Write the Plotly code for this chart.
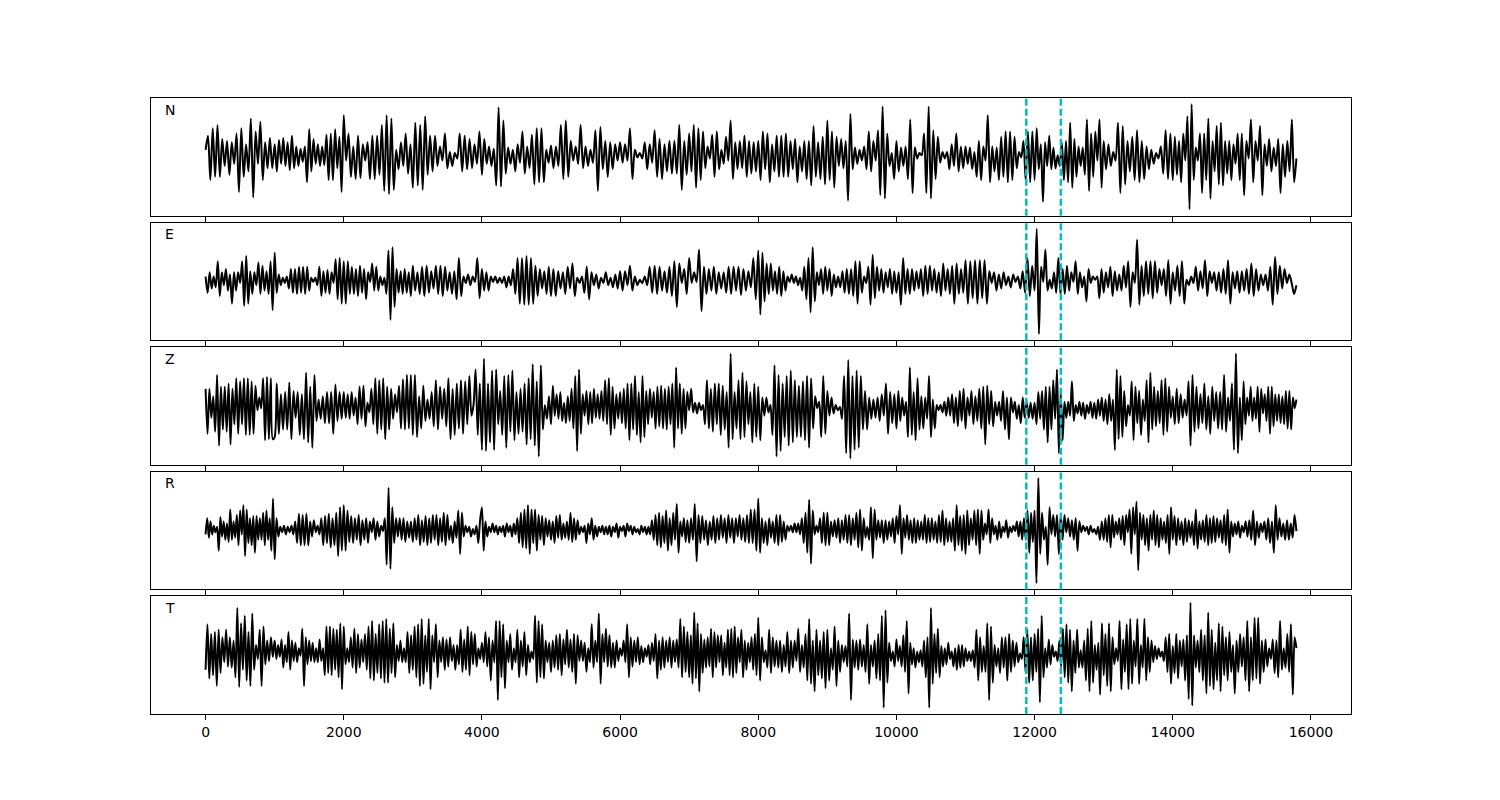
import numpy as np
import plotly.graph_objects as go

# ---------------- data (peak / trough amplitudes read per 1000-sample chunk) ----------------
CHUNK = 1000
T_END = 15790
components = ["N", "E", "Z", "R", "T"]
pick_times = [11880, 12380]
xticks = [0, 2000, 4000, 6000, 8000, 10000, 12000, 14000, 16000]

N_chunks = [
    [5, 18, -23, 25, -20, 28, -20, 15, -10, 13, -18, 12, -8, 20, -34, 25, -20, 10, -15, 34, -39, 22, -8, 31, -23, 12, -12, 16, -12],
    [10, -15, 14, -8, 16, -10, 12, -14, 18, -12, 8, -10, 6, -6, 8, -25, 24, -15, 15, -8, 10, -10, 8, -9, 19, -23, 20, -23, 24, -12, 17, -34],
    [37, -5, 20, -20, 8, -22, 18, -21, 10, -5, 12, -22, 18, -22, 18, -18, 28, -33, 37, -36, 34, -32, 5, -13, 12, -10, 20, -17, 10],
    [-30, 30, -28, 28, -32, 36, -18, 18, -15, 18, -10, 8, -5, 20, -12, 3, -10, 2, -3, 20, -15, 18, -13, 15, -12, 10, -8, 22],
    [-18, 15, -8, 8, -10, 6, -28, 44, -29, 32, -17, 7, -8, 5, -15, 10, -7, 22, -17, 8, -12, 19, -27, 25, -25, 25, -25, 5, -7],
    [9, -12, 8, -10, 28, -22, 32, -20, 13, -5, 8, -8, 28, -12, 8, -10, 5, -7, 23, -33, 26, -13, 13, -20, 12, -13, 10, -5],
    [12, -7, 10, -5, 25, -22, 5, -2, 2, -3, 12, -13, 10, -7, 23, -20, 15, -22, 10, -15, 13, -17, 13, -17, 28, -32, 13, -18],
    [20, -15, 28, -30, 25, -23, 22, -12, 8, -3, 19, -20, 22, -13, 5, -8, 17, -5, 32, -22, 12, -13, 13, -12, 18, -20, 13, -17, 12, -15],
    [13, -23, 22, -13, 20, -25, 10, -15, 18, -20, 18, -20, 20, -20, 13, -13, 15, -25, 8, -15, 13, -22, 13, -28, 27, -20, 12, -22, 17, -27],
    [32, -23, 22, -30, 17, -10, 15, -12, 13, -42, 38, -13, 7, -8, 5, -5, 8, -13, 22, -15, 13, -5, 23, -37, 45, -40, 20, -10, 2, -22],
    [13, -15, 7, -10, 8, -22, 33, -35, 7, -3, 2, 0, 20, -35, 45, -40, 23, -22, 17, -7, 3, -3, 3, -13, 10, -10, 20, -15, 8, -12],
    [8, -8, 7, -13, 3, -20, 13, -23, 8, -5, 37, -25, 8, -15, 7, -23, 17, -20, 22, -25, 22, -23, 17, -12, 3, -2, 13, -23, 22, -25, 22],
    [-23, 25, -13, 10, -43, 12, -10, 18, -13, 7, -12, 0, -10, 12, -23, 13, -25, 30, -30, 15, -20, 8, -10, 7, -18, 33, -33, 20, -20, 22, -5, 33, -30],
    [13, -13, 10, -10, 3, -5, 30, -35, 27, -27, 13, -15, 17, -23, 23, -25, 13, -22, 8, -13, 5, -8, 2, -3, 8, -17, 23, -22, 20],
    [-23, 17, -18, 13, -25, 20, -5, 36, -50, 47, -23, 7, -5, 20, -35, 20, -23, 34, -40, 13, -15, 27, -27, 30, -28, 13, -17, 13, -23, 10, -8, 20, -23],
    [20, -37, 13, -3, 33, -25, 13, -5, 27, -37, 10, -10, 15, -15, 7, -10, 15, -35, 10, -20, 13, -15, 33, -25, -3],
]

E_chunks = [
    [3, -12, 7, -8, 3, -7, 17, -15, 7, -5, 10, -10, 5, -22, 7, -10, 7, -3, 17, -24, 22, -22, 8, -13, 7, -5, 16, -13, 13, -10, 8, -13, 17, -28],
    [25, -12, 5, -5, 2, -3, 3, -8, 10, -12, 10, -13, 12, -12, 12, -13, 12, -10, 2, -2, 2, -5, 12, -15, 8, -12, 9, -13, 7, -3, 19, -18, 20, -22],
    [17, -22, 17, -13, 12, -13, 10, -15, 13, -12, 10, -18, 7, -2, 15, -10, 12, -10, 3, -5, 2, -13, 27, -37, 30, -25, 10, -12, 8, -13, 10, -12, 7, -15],
    [13, -10, 7, -13, 12, -15, 13, -12, 8, -8, 13, -13, 13, -15, 12, -10, 7, -13, 8, -18, 20, -15, 3, -3, 5, -5, 3, -2, 20, -17],
    [10, -10, 7, -10, 3, -2, 3, -3, 2, -3, 3, -7, 3, -5, 10, -13, 20, -22, 20, -23, 22, -23, 20, -22, 13, -15, 10, -8, 8, -13, 12],
    [-15, 10, -15, 8, -8, 7, -13, 12, -8, 15, -15, 2, -3, 3, -12, 12, -18, 7, -5, 5, -8, 2, -3, 7, -5, 2, -7, 5, -8],
    [8, -10, 8, -5, 13, -10, 3, -5, 0, -3, 3, -5, 12, -12, 13, -13, 12, -10, 8, -12, 12, -15, 17, -25, 15, -3, 10, -13],
    [20, -3, 7, -2, 28, -29, 12, -13, 10, -10, 12, -13, 7, -8, 7, -12, 12, -13, 12, -10, 12, -14, 10, -10, 8, -7, 20, -18],
    [27, -32, 25, -20, 15, -13, 15, -10, 8, -13, 12, -15, 8, -10, 3, -2, 5, -3, 3, -5, 2, -10, 12, -18, 20, -30, 30, -20, 7, -5, 10, -13, 12],
    [-10, 10, -15, 5, -7, 3, -7, 8, -12, 10, -13, 10, -15, 17, -22, 17, -12, 3, -3, 12, -23, 23, -17, 12, -10, 10, -12, 7, -7, 10, -13, 8],
    [-12, 7, -23, 20, -13, 10, -13, 10, -10, 8, -8, 10, -15, 13, -13, 13, -10, 10, -12, 7, -15, 15, -10, 10, -13, 13, -22, 15, -13, 10, -12],
    [18, -22, 17, -17, 18, -22, 18, -17, 18, -22, 8, -3, 7, -10, 5, -8, 7, -5, 3, -7, 5, -2, 3, -8, 8, -12, 20, -15, 13],
    [-10, 47, -50, 12, -2, 28, -10, 0, -8, 7, -12, 20, -13, 10, -13, 13, -10, 7, -2, 17, -13, 7, -7, 3, -20, 10, -3, 3, 0, 3, -17, 10],
    [-12, 7, -7, 12, -15, 8, -10, 5, -10, 13, -7, 17, -25, 7, -3, 37, -23, 13, -15, 17, -13, 17, -17, 17, -12, 10, -5, 10, -15, 18, -22],
    [7, -10, 13, -15, 17, -22, 0, -5, 3, -3, 12, -10, 8, -8, 18, -15, 8, -3, 7, -10, 7, -12, 10, -13, 18, -22, 7, -8, 8, -12],
    [8, -10, 10, -13, 15, -15, 10, -10, 5, -5, 5, -10, 12, -23, 21, -13, 13, -8, 10, -3, 5, -3, -13, -5],
]

Z_chunks = [
    [15, -27, 15, -12, 8, -25, 28, -38, 17, -23, 17, -25, 20, -37, 15, -18, 25, -27, 22, -18, 25, -28, 25, -28, 22, -27, 18, -5, 7, -3, 25, -33, 26, -32, 25, -32],
    [-30, 20, -27, 10, -23, 12, -23, 21, -32, 13, -12, 12, -28, 10, -32, 30, -35, 17, -40, 28, -15, 5, -13, 8, -17, 12, -17, 12, -27, 19, -15, 12, -13],
    [12, -12, 10, -13, 12, -10, 7, -18, 17, -13, 18, -20, 2, -7, 15, -18, 25, -27, 23, -23, 25, -32, 17, -23, 15, -13, 10, -7, 18, -22, 24, -23, 28, -22, 28],
    [-28, 28, -30, 8, -22, 18, -15, 5, -13, 12, -20, 23, -23, 17, -13, 15, -20, 25, -32, 15, -28, 20, -22, 23, -27, 22, -18, 27, -10, 0, 33, -28, 20],
    [-42, 43, -43, 20, -35, 32, -42, 33, -18, 13, -28, 27, -40, 28, -25, 32, -33, 12, -27, 15, -25, 20, -37, 25, -32, 38, -38, 22, -48, 37, -23, 0, -13, 8],
    [-18, 18, -10, 10, -13, 12, -15, 2, -17, 8, -15, 15, -22, 27, -43, 33, -27, 10, -10, 13, -18, 12, -17, 15, -12, 10, -13, 13, -15, 23, -18, 25, -28, 17, -22, 10, -13],
    [12, -17, 15, -22, 20, -33, 20, -23, 27, -28, 12, -35, 27, -30, 13, -18, 15, -12, 12, -22, 17, -20, 18, -22, 15, -23, 17, -18, 20, -40, 35, -22, 20, -27, 15, -22, 12],
    [-5, 15, -7, 2, -8, 2, -5, 0, -18, 23, -22, 15, -25, 20, -18, 20, -28, 18, -23, 12, -40, 48, -32, 12, -22, 23, -32, 30, -30, 22, -18, 12, -35, 20, -30],
    [17, -33, 7, -10, 7, -7, 0, -28, 37, -48, 28, -43, 20, -30, 27, -38, 32, -35, 23, -30, 18, -30, 22, -33, 27, -40, 25, -22, 8, -3, 3, -30, 27, -27],
    [13, -10, 7, -8, 0, -5, -2, -13, 27, -45, 42, -50, 27, -42, 32, -40, 27, -23, 13, -23, 7, -13, 5, -12, 7, -15, 10, -10, 20, -27, 12, -17, 10],
    [-22, 13, -15, 7, -10, 3, -30, 35, -28, 12, -33, 25, -23, 8, -22, 7, -13, 27, -30, 5, -22, 0, -5, 0, -7, 3, -10, 7, -10, 10, -17, 7, -20, 13, -15, 15],
    [-22, 7, -10, 13, -18, 8, -15, 15, -22, 17, -37, 18, -18, 13, -20, 3, -10, 3, -15, 13, -23, 7, -32, 7, -7, 3, -13, 0, -17, 7, -12, 3, -12, 2, -13],
    [2, -18, 12, -13, 13, -23, 17, -35, 17, -23, 23, -13, 33, -45, 12, -33, 3, -12, 3, -10, 22, -15, 0, -8, 3, -10, 2, -13, 0, -8, 3, -12, 2, -13, 5, -10, 7],
    [-15, 5, -18, 10, -15, 5, -42, 33, -32, 27, -30, 13, -20, 0, -10, 22, -33, 17, -17, 13, -28, 5, -15, 23, -35, 30, -23, 17, -20, 13, -17, 23, -28, 25, -25, 17, -12],
    [8, -18, 15, -17, 10, -12, 5, -10, 22, -38, 28, -25, 17, -22, 10, -17, 20, -23, 8, -27, 17, -15, 12, -22, 12, -23, 28, -25, 7, -15, 20, -42, 48, -45, 7],
    [-33, 22, -18, 7, -10, 17, -15, 7, -13, 17, -25, 15, -8, 10, -15, 17, -27, 17, -20, 10, -15, 10, -17, 8, -18, 13, -22, 13, -23, 7, -3, 5],
]

R_chunks = [
    [-5, 10, -8, 7, -5, 3, -3, 2, -20, 11, -7, 7, -10, 5, -12, 18, -10, 7, -8, 13, -15, 17, -5, 22, -25, 18, -13, 10, -15, 12, -22, 12, -10, 10, -10, 15, -15, 17, -10, 10, -20, 28],
    [-28, 10, -7, 2, -3, 3, -5, 2, -3, 3, -5, 7, -13, 14, -15, 13, -15, 14, -15, 7, -7, 8, -3, 3, -5, 10, -15, 12, -13, 14, -17, 10, -15, 15, -25, 20, -20],
    [22, -20, 17, -12, 12, -13, 10, -10, 13, -15, 8, -10, 10, -13, 7, -3, 10, -10, 7, -7, 3, -2, 10, -33, 38, -37, 20, -13, 10, -7, 10, -10, 10, -12, 7, -8, 7],
    [-12, 10, -10, 13, -15, 8, -12, 12, -15, 10, -13, 13, -10, 13, -15, 10, -12, 15, -15, 13, -10, 3, -13, 7, -8, 17, -23, 15, -7, 3, -3, 2, -7, 0, -5, 3, -13, 8],
    [20, -20, 7, -7, 2, -3, 5, -3, 3, -5, 2, -3, 3, -7, 5, -3, 3, -7, 5, -5, 10, -13, 15, -17, 18, -18, 22, -23, 18, -13, 18, -20, 13, -10, 12, -15, 10, -7, 8],
    [-10, 7, -13, 12, -8, 13, -10, 5, -8, 7, -10, 15, -12, 10, -10, 8, -5, 2, -3, 3, -13, 5, -5, 10, -10, 3, -7, 2, -3, 3, -5, 2, -5, 3, -7, 2, -3, 5, -8],
    [2, -2, 3, -7, 5, -2, 3, -5, 2, -3, 0, -5, 3, -3, 2, -5, 2, -5, 8, -10, 13, -15, 15, -17, 12, -13, 17, -20, 10, -15, 15, -10, 23, -22, 7, -7, 10, -12, 8],
    [-13, 10, -10, 23, -30, 13, -13, 12, -10, 8, -15, 7, -10, 12, -13, 10, -10, 13, -8, 10, -13, 13, -8, 10, -13, 10, -7, 13, -10, 10, -12, 13, -13, 18, -13, 18, -20],
    [28, -22, 10, -13, 7, -15, 10, -8, 7, -13, 13, -15, 13, -12, 7, -10, 3, -2, 3, -3, 5, -3, 5, -5, 10, -13, 15, -22, 27, -32, 17, -5, 3, -3, 10, -13, 15, -15],
    [15, -15, 7, -7, 8, -8, 10, -13, 8, -10, 13, -13, 13, -15, 10, -10, 15, -17, 18, -20, 10, -8, 2, -10, 20, -27, 18, -10, 8, -8, 8, -13, 8, -10, 7, -7, 10, -13],
    [12, -5, 22, -23, 10, -8, 13, -10, 8, -13, 10, -13, 8, -10, 7, -10, 13, -13, 10, -12, 10, -10, 7, -13, 13, -12, 17, -15, 10, -12, 7, -12, 10, -20, 22, -15, 12, -20, 13],
    [-23, 17, -15, 10, -10, 17, -15, 18, -23, 17, -10, 5, -5, 18, -13, 10, -5, 3, -10, 7, -8, 2, -3, 8, -8, 2, -3, 3, -2, 7, -7, 7, -10, 10, -10, 17, -22, 15, -12],
    [17, -50, 47, -23, 15, -10, 2, -33, 20, -5, 13, -7, 13, -23, 13, -10, 13, -3, 10, -7, 8, -10, 10, -20, 7, -3, 3, -2, 2, -5, 3, -3, 0, -5, 2, -10, 7],
    [-10, 10, -12, 13, -17, 13, -8, 7, -5, 10, -10, 12, -15, 13, -3, 18, -23, 20, -5, 25, -38, 15, -10, 13, -15, 10, -20, 13, -10, 17, -15, 13, -17, 10, -10, 7, -13, 13, -23, 20],
    [-10, 12, -15, 10, -10, 7, -15, 10, -12, 8, -8, 7, -15, 18, -18, 7, -10, 8, -12, 13, -15, 10, -13, 12, -12, 10, -8, 8, -13, 13, -15, 18, -22, 7, -7, 5, -5, 7, -8],
    [3, -3, 7, -7, 8, -10, 17, -15, 7, -8, 5, -3, 7, -10, 10, -13, 7, -22, 22, -10, 10, -7, 5, -10, 8, -10, 5, -8, 13, -2],
]

T_chunks = [
    [-15, 27, -23, 18, -20, 20, -30, 22, -18, 15, -8, 22, -12, 15, -13, 12, -22, 42, -31, 28, -15, 35, -25, 20, -30, 37, -15, 8, -5, 22, -30, 25, -10, 12, -7, 15, -3],
    [12, -5, 8, -3, 13, -13, 8, -8, 20, -15, 12, -7, 10, -8, 5, -2, 23, -30, 15, -10, 12, -7, 10, -8, 5, -8, 13, -7, 5, -20, 25, -18, 25, -20, 23, -15, 22, -22, 28, -33],
    [25, -10, 5, -8, 15, -13, 23, -18, 18, -13, 13, -8, 18, -15, 25, -23, 30, -25, 18, -18, 27, -23, 30, -27, 32, -27, 23, -18, 28, -22, 8, -7, 12, -8, 5, -8, 20, -18, 17],
    [-15, 25, -22, 27, -30, 32, -28, 17, -17, 32, -33, 17, -8, 27, -22, 12, -8, 15, -15, 13, -12, 15, -7, 8, -15, 8, -10, 22, -17, 13, -15, 25, -20, 20, -10, 18, -12, 5, -5],
    [10, -8, 20, -12, 15, -25, 12, -8, 30, -43, 30, -22, 27, -32, 12, -8, 18, -15, 5, -8, 22, -22, 12, -12, 20, -20, 8, -8, 2, -5, 35, -27, 30, -22, 27, -23, 12, -8, 10],
    [-17, 12, -13, 17, -15, 18, -20, 13, -10, 22, -13, 13, -17, 18, -28, 17, -7, 12, -7, 10, -17, 5, -8, 27, -13, 12, -8, 37, -28, 18, -8, 23, -12, 17, -13, 10, -13, 12, -7],
    [5, -2, 12, -8, 27, -22, 15, -12, 12, -8, 15, -10, 7, -8, 5, -3, 8, -10, 10, -7, 18, -23, 12, -15, 15, -13, 12, -8, 15, -13, 12, -8, 13, -13, 32, -22, 25, -17, 20],
    [-22, 17, -28, 38, -23, 28, -35, 18, -18, 13, -13, 15, -12, 23, -22, 20, -13, 17, -8, 17, -20, 10, -13, 22, -20, 23, -22, 25, -18, 15, -8, 22, -22, 12, -15, 10, -8, 15, -15, 18, -20],
    [33, -25, 15, -8, 3, -13, 22, -18, 15, -12, 12, -13, 12, -17, 8, -12, 20, -18, 12, -13, 12, -7, 23, -17, 8, -13, 18, -25, 32, -28, 12, -35, 22, -20, 12, -23, 20, -32],
    [22, -25, 5, -15, 25, -30, 12, -17, 8, -8, 7, -12, 37, -43, 13, -13, 12, -15, 13, -12, 8, -17, 27, -28, 8, -12, 12, -23, 18, -25, 35, -50, 40, -27, 10, -7, 2, -12],
    [13, -7, 7, -12, 17, -17, 30, -37, 10, -10, 5, -13, 2, -8, 3, -12, 12, -22, 15, -50, 42, -28, 18, -18, 23, -22, 7, -12, 5, -10, 10, -5, 2, -12, 5, -15, 8, -13, 8, -12],
    [5, -7, 2, -7, 3, -13, 22, -25, 15, -17, 7, -17, 28, -43, 25, -27, 8, -12, 5, -18, 15, -13, 15, -25, 18, -17, 12, -12, 10, -8, 0, -5, 15, -17, 22, -27, 15, -25],
    [18, -17, 23, -45, 35, -22, 5, -13, 13, -10, 8, -3, 2, -7, 12, -12, 23, -22, 27, -27, 22, -35, 12, -18, 22, -13, 3, -13, 12, -25, 23, -35, 30, -27, 8, -15, 10, -38, 28],
    [-20, 18, -30, 28, -35, 15, -10, 5, -7, 30, -33, 13, -17, 27, -33, 32, -28, 12, -12, 32, -28, 8, -13, 32, -25, 15, -17, 12, -8, 7, -5, 5, -3, 2, -7, 15, -17, 18, -28],
    [7, -18, 18, -23, 12, -12, 13, -25, 17, -42, 47, -48, 17, -13, 12, -17, 22, -25, 17, -37, 38, -30, 22, -33, 10, -25, 28, -35, 25, -20, 15, -25, 20, -17, 8, -37, 12, -17, 18],
    [-12, 15, -25, 30, -35, 15, -25, 33, -23, 33, -28, 12, -17, 13, -12, 5, -5, 13, -18, 12, -22, 30, -15, 5, -13, 18, -17, 27, -38, 15, 5],
]

traces = {"N": N_chunks, "E": E_chunks, "Z": Z_chunks, "R": R_chunks, "T": T_chunks}


def build(chunks):
    t, v = [], []
    for k, ch in enumerate(chunks):
        start = k * CHUNK
        n = len(ch)
        if k == len(chunks) - 1:
            ts = np.linspace(start, T_END, n)
        else:
            ts = start + np.arange(n) * CHUNK / n
        t.extend(ts.tolist())
        v.extend(ch)
    return np.array(t), np.array(v, dtype=float)


# ---------------- figure ----------------
FONT = "DejaVu Sans"
gap = 0.0112
h = (1 - 4 * gap) / 5

fig = go.Figure()
layout = dict(
    width=1500, height=800,
    margin=dict(l=143, r=157, t=90, b=94),
    paper_bgcolor="white", plot_bgcolor="white",
    showlegend=False,
    font=dict(family=FONT, size=14, color="black"),
    shapes=[], annotations=[],
)

for i, comp in enumerate(components):
    idx = i + 1
    xa = "x" if idx == 1 else f"x{idx}"
    ya = "y" if idx == 1 else f"y{idx}"
    t, v = build(traces[comp])
    fig.add_trace(go.Scatter(
        x=t, y=v, mode="lines", xaxis=xa, yaxis=ya,
        line=dict(color="black", width=2, shape="spline", smoothing=0.8),
        hoverinfo="skip",
    ))
    top = 1 - i * (h + gap)
    dom = [round(max(0.0, top - h), 4), round(min(1.0, top), 4)]
    vmin, vmax = v.min(), v.max()
    pad = 0.06 * (vmax - vmin)
    is_bottom = (i == len(components) - 1)
    layout["xaxis" if idx == 1 else f"xaxis{idx}"] = dict(
        domain=[0, 1], anchor=ya, range=[-790, 16580],
        tickmode="array", tickvals=xticks,
        ticktext=[str(x) for x in xticks],
        showticklabels=is_bottom,
        ticks="outside", ticklen=5, tickwidth=1, tickcolor="black",
        showline=True, linecolor="black", linewidth=1, mirror=True,
        showgrid=False, zeroline=False,
        tickfont=dict(family=FONT, size=14, color="black"),
        **({} if idx == 1 else {"matches": "x"}),
    )
    layout["yaxis" if idx == 1 else f"yaxis{idx}"] = dict(
        domain=dom, anchor=xa, range=[vmin - pad, vmax + pad],
        showticklabels=False, ticks="",
        showline=True, linecolor="black", linewidth=1, mirror=True,
        showgrid=False, zeroline=False,
    )
    for pt in pick_times:
        layout["shapes"].append(dict(
            type="line", xref=xa, yref=f"{ya} domain",
            x0=pt, x1=pt, y0=0, y1=1,
            line=dict(color="#00bfbf", width=2.5, dash="7px,3px"),
        ))
    layout["annotations"].append(dict(
        text=comp, xref=f"{xa} domain", yref=f"{ya} domain",
        x=0.01, y=0.9, xanchor="left", yanchor="middle",
        showarrow=False, font=dict(family=FONT, size=14, color="black"),
    ))

fig.update_layout(**layout)
fig.write_html("out.html")
